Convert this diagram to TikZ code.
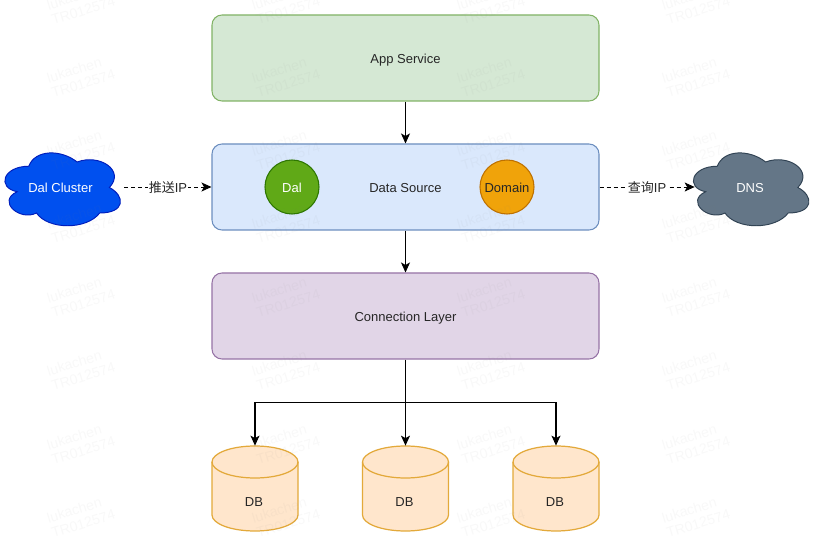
\documentclass[tikz,border=0pt]{standalone}
\usepackage{fontspec}
\setmainfont{Liberation Sans}
\newfontfamily\cjk{Noto Sans CJK SC}
\usetikzlibrary{arrows.meta}
\definecolor{greenfill}{HTML}{D5E8D4}
\definecolor{greenline}{HTML}{82B366}
\definecolor{bluefill}{HTML}{DAE8FC}
\definecolor{blueline}{HTML}{6C8EBF}
\definecolor{purplefill}{HTML}{E1D5E7}
\definecolor{purpleline}{HTML}{9673A6}
\definecolor{orangefill}{HTML}{FFE6CC}
\definecolor{orangeline}{HTML}{E3A93A}
\definecolor{dalfill}{HTML}{60A917}
\definecolor{dalline}{HTML}{2D7600}
\definecolor{domainfill}{HTML}{F0A30A}
\definecolor{domainline}{HTML}{BD7000}
\definecolor{cloudfill}{HTML}{0050EF}
\definecolor{cloudline}{HTML}{001DBC}
\definecolor{dnsfill}{HTML}{647687}
\definecolor{dnsline}{HTML}{314354}
\definecolor{inktext}{HTML}{262626}
\tikzset{
    every node/.style={font=\fontsize{7.4pt}{9pt}\selectfont, text=inktext},
    caption/.style={text height=0.81em, text depth=0.2em},
    layerbox/.style={caption, draw, rounded corners=0.2cm, line width=0.6pt, minimum width=7.74cm, minimum height=1.72cm},
    ball/.style={caption, circle, draw, line width=0.6pt, minimum size=1.08cm, inner sep=0pt, text=white},
    store/.style={minimum width=1.72cm, minimum height=1.70cm, inner sep=0pt},
    storeskin/.style={draw=orangeline, fill=orangefill, line width=0.7pt},
    link/.style={draw=black, line width=0.6pt, -{Stealth[length=2mm, width=1.8mm, inset=0.5mm]}},
    dashlink/.style={link, line width=0.5pt, dash pattern=on 0.08cm off 0.06cm},
    edgetext/.style={caption, fill=white, inner sep=0.5pt},
    watermark/.style={font=\fontsize{8pt}{8.8pt}\selectfont, text=gray, opacity=0.05, rotate=17, align=left, inner sep=0pt}
}
% draw.io style cloud, unit box
\newcommand{\puffcloud}[2]{
    \draw[#1, line width=0.55pt, shift={(#2)}, x=2.58cm, y=-1.70cm]
        (0.25,0.25) .. controls (0.05,0.25) and (0,0.5) .. (0.16,0.55)
        .. controls (0,0.66) and (0.18,0.9) .. (0.31,0.8)
        .. controls (0.4,1) and (0.7,1) .. (0.8,0.8)
        .. controls (1,0.8) and (1,0.6) .. (0.875,0.5)
        .. controls (1,0.3) and (0.8,0.1) .. (0.625,0.2)
        .. controls (0.5,0.05) and (0.3,0.05) .. (0.25,0.25) -- cycle;
}
% database drum around a named node
\newcommand{\drum}[1]{
    \draw[storeskin, shift={(#1.center)}]
        (-0.86,0.53) arc[start angle=180, end angle=0, x radius=0.86, y radius=0.32]
        -- (0.86,-0.53) arc[start angle=0, end angle=-180, x radius=0.86, y radius=0.32] -- cycle;
    \draw[storeskin, fill=none, shift={(#1.center)}]
        (-0.86,0.53) arc[start angle=180, end angle=360, x radius=0.86, y radius=0.32];
}
\begin{document}
\begin{tikzpicture}
    \useasboundingbox[fill=white] (0.00,0.00) rectangle (16.56,-10.86);
    % Clouds
    \puffcloud{draw=cloudline, fill=cloudfill}{-0.07,-2.90}
    \puffcloud{draw=dnsline, fill=dnsfill}{13.70,-2.90}
    % Layers
    \node[layerbox, draw=greenline, fill=greenfill]   (app)  at (8.11,-1.16) {App Service};
    \node[layerbox, draw=blueline, fill=bluefill]     (src)  at (8.11,-3.74) {Data Source};
    \node[layerbox, draw=purpleline, fill=purplefill] (conn) at (8.11,-6.32) {Connection Layer};
    \node[ball, draw=dalline, fill=dalfill]           (dal)    at (5.84,-3.74) {Dal};
    \node[ball, draw=domainline, fill=domainfill, text=inktext] (domain) at (10.14,-3.74) {Domain};
    % Cloud captions, their nodes carry the connector ends
    \node[caption, text=white, minimum width=2.54cm, inner sep=0pt] (cluster) at (1.21,-3.74) {Dal Cluster};
    \node[caption, text=white, minimum width=2.20cm, inner sep=0pt] (dns)     at (15.00,-3.74) {DNS};
    % Databases
    \node[store] (db1) at (5.10,-9.77) {};
    \node[store] (db2) at (8.11,-9.77) {};
    \node[store] (db3) at (11.12,-9.77) {};
    \foreach \i in {1,2,3} {
        \drum{db\i}
        \node[caption, inner sep=0pt] (dbtext\i) at ([xshift=-0.02cm, yshift=-0.25cm]db\i.center) {DB};
    }
    % Connectors
    \coordinate (bus) at (8.11,-8.05);
    \draw[link] (app) -- (src);
    \draw[link] (src) -- (conn);
    \draw[link] (conn) -- (db2.north);
    \draw[link] (bus) -| (db1.north);
    \draw[link] (bus) -| (db3.north);
    \draw[dashlink] (cluster.east) -- node[edgetext] {{\cjk 推送}IP} (src.west);
    \draw[dashlink] (src.east) -- node[edgetext] {{\cjk 查询}IP} (dns.west);
    % Watermark
    \foreach \x [count=\c] in {1.62,5.72,9.82,13.92}
        \foreach \y [count=\r] in {-0.06,-1.52,-2.98,-4.44,-5.92,-7.38,-8.86,-10.32}
            \node[watermark] (wm\c-\r) at (\x,\y) {lukachen\\TR012574};
\end{tikzpicture}
\end{document}
